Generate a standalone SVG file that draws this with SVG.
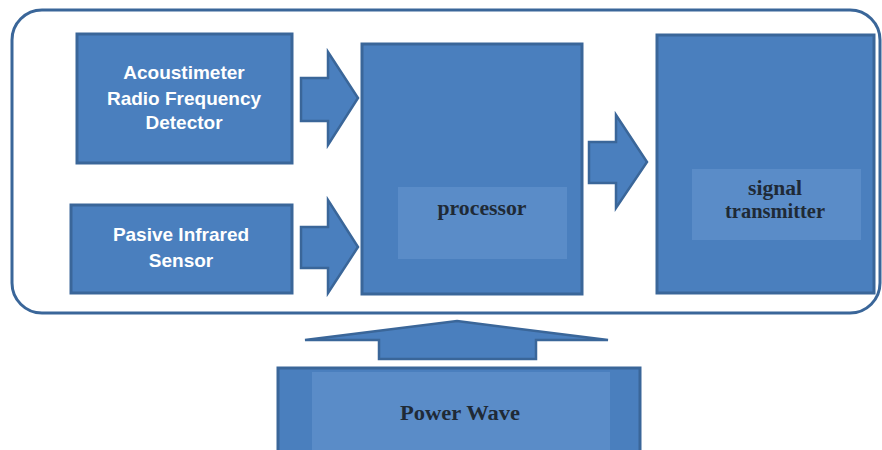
<svg xmlns="http://www.w3.org/2000/svg" width="882" height="450" viewBox="0 0 882 450">
<style>
.box{fill:#4A7FBE;stroke:#3A6699;stroke-width:3}
.inner{fill:#5A8CC8;stroke:none}
.arrow{fill:#4A7FBE;stroke:#3A6699;stroke-width:2.5;stroke-linejoin:miter}
.wt{font-family:"Liberation Sans",Arial,sans-serif;font-weight:bold;font-size:19px;fill:#FFFFFF;text-anchor:middle}
.dt{font-family:"Liberation Serif","Times New Roman",serif;font-size:20px;fill:#1F2A36;text-anchor:middle;font-weight:bold}
</style>
<rect width="882" height="450" fill="#FFFFFF"/>
<g id="container">
<rect x="12" y="10" width="868" height="303" rx="30" ry="30" fill="#FFFFFF" stroke="#3A6699" stroke-width="3"/>
</g>
<g id="acoustimeter">
<rect class="box" x="77" y="34" width="215" height="129"/>
<text class="wt" x="184" y="79">Acoustimeter</text>
<text class="wt" x="184" y="105">Radio Frequency</text>
<text class="wt" x="184" y="129">Detector</text>
</g>
<g id="pir">
<rect class="box" x="71" y="205" width="221" height="88"/>
<text class="wt" x="181" y="241">Pasive Infrared</text>
<text class="wt" x="181" y="267">Sensor</text>
</g>
<g id="processor">
<rect class="box" x="362" y="44" width="220" height="250"/>
<rect class="inner" x="398" y="187" width="169" height="72"/>
<text class="dt" x="482" y="215" textLength="89" lengthAdjust="spacingAndGlyphs">processor</text>
</g>
<g id="transmitter">
<rect class="box" x="657" y="35" width="217" height="258"/>
<rect class="inner" x="692" y="169" width="169" height="71"/>
<text class="dt" x="775" y="195" textLength="54" lengthAdjust="spacingAndGlyphs">signal</text>
<text class="dt" x="775" y="218" textLength="100" lengthAdjust="spacingAndGlyphs">transmitter</text>
</g>
<g id="power">
<rect class="box" x="278" y="368" width="362" height="95"/>
<rect class="inner" x="312" y="372" width="298" height="80"/>
<text class="dt" x="460" y="420" textLength="120" lengthAdjust="spacingAndGlyphs">Power Wave</text>
</g>
<g id="connectors">
<polygon class="arrow" points="301,78 328,78 328,52 358,98 328,145 328,121 301,121"/>
<polygon class="arrow" points="301,227 328,227 328,200 358,247 328,293 328,268 301,268"/>
<polygon class="arrow" points="589,142 616,142 616,115 647,162 616,208 616,183 589,183"/>
<polygon class="arrow" points="457,321 608,340 536,340 536,359 379,359 379,340 305,340"/>
</g>
</svg>
